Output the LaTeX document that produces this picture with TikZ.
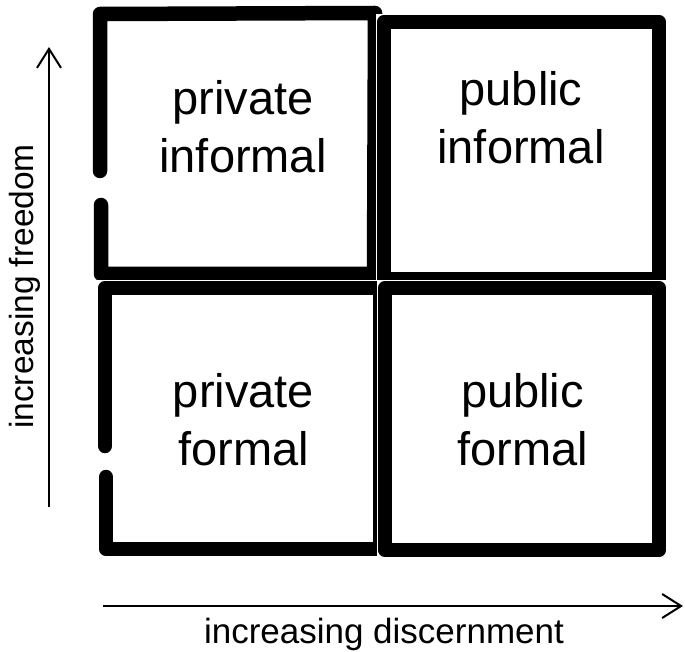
\documentclass[tikz,border=0pt]{standalone}
\usepackage{fontspec}
\setmainfont{Liberation Sans}
\usetikzlibrary{arrows.meta}
\tikzstyle{quad} = [align=center, inner sep=0pt, font=\fontsize{47}{58}\selectfont]
\tikzstyle{frame} = [line width=14.5pt, line join=round, line cap=round, black, preaction={draw=white, line width=16pt}]
\tikzstyle{axis} = [line width=2pt, -{Straight Barb[length=19pt, width=24pt]}]
\tikzstyle{axislabel} = [inner sep=0pt, anchor=base]
\begin{document}
\begin{tikzpicture}[x=1pt, y=-1pt]

	\useasboundingbox (0,0) rectangle (685,652);

	% Frames
	\draw[frame] (100,171) -- (100,14) -- (375,13) -- (374,274) -- (101,274) -- (101,205);
	\draw[frame] (384,22) -- (659,22) -- (659,279) -- (384,279) -- cycle;
	\draw[frame] (105,446) -- (105,288) -- (380,288) -- (380,549) -- (106,549) -- (106,477);
	\draw[frame] (385,288) -- (659,288) -- (659,550) -- (385,550) -- cycle;

	% Quadrants
	\node (privinf) [quad] at (243,127) {private\\informal};
	\node (pubinf)  [quad] at (521,118) {public\\informal};
	\node (privfor) [quad] at (243.5,419.5) {private\\formal};
	\node (pubfor)  [quad] at (522.5,419.5) {public\\formal};

	% Axes
	\coordinate (freelow)  at (49,507);
	\coordinate (freehigh) at (49,47);
	\coordinate (disclow)  at (103,606);
	\coordinate (dischigh) at (683,606);
	\draw[axis] (freelow) -- (freehigh);
	\draw[axis] (disclow) -- (dischigh);

	% Axis labels
	\node (freelabel) [axislabel, rotate=90, font=\fontsize{33.5}{40}\selectfont] at (33,286.5) {increasing freedom};
	\node (disclabel) [axislabel, font=\fontsize{35}{42}\selectfont] at (384,643) {increasing discernment};

\end{tikzpicture}
\end{document}
